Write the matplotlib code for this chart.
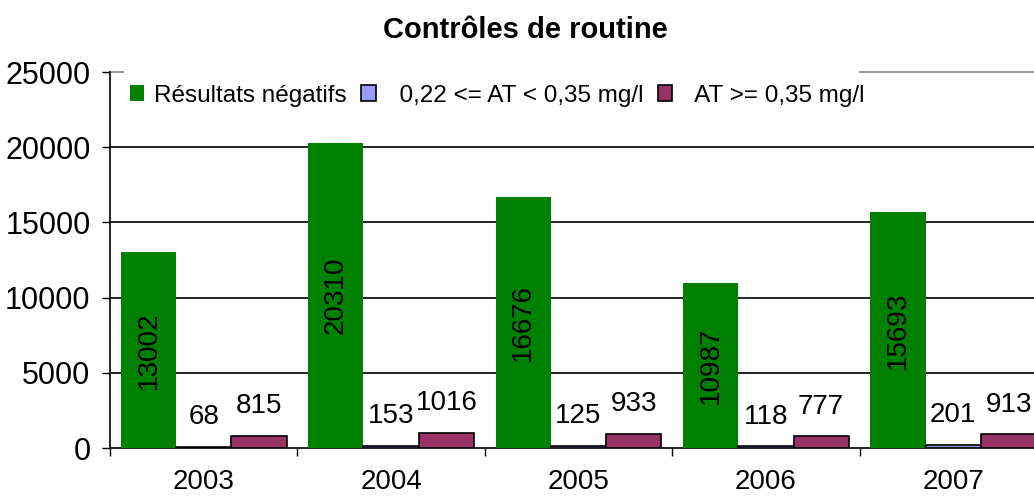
import matplotlib.pyplot as plt
import numpy as np

plt.rcParams['font.family'] = ['Liberation Sans', 'DejaVu Sans']

years = ['2003', '2004', '2005', '2006', '2007']
negatifs = [13002, 20310, 16676, 10987, 15693]
entre = [68, 153, 125, 118, 201]
superieur = [815, 1016, 933, 777, 913]
labels = ['Résultats négatifs', '  0,22 <= AT < 0,35 mg/l', '  AT >= 0,35 mg/l']
colors = ['#008000', '#9999FF', '#993366']


def main():
    fig = plt.figure(figsize=(10.34, 4.97), dpi=100)
    # plot area runs past the right edge, as in the original
    ax = fig.add_axes([110/1034, 1-448/497, 937/1034, 376/497])

    x = np.arange(len(years))
    w = 0.295
    b1 = ax.bar(x - w, negatifs, w, color=colors[0], edgecolor='none', label=labels[0], zorder=3)
    b2 = ax.bar(x, entre, w, color=colors[1], edgecolor='black', linewidth=1.2, label=labels[1], zorder=3)
    b3 = ax.bar(x + w, superieur, w, color=colors[2], edgecolor='black', linewidth=1.2, label=labels[2], zorder=3)

    for rect, v in zip(b1, negatifs):
        ax.text(rect.get_x() + rect.get_width()/2, v/2, str(v), rotation=90,
                ha='center', va='center', fontsize=20, zorder=4)
    for bars, vals in ((b2, entre), (b3, superieur)):
        for rect, v in zip(bars, vals):
            ax.annotate(str(v), (rect.get_x() + rect.get_width()/2, v),
                        xytext=(0, 12), textcoords='offset points',
                        ha='center', va='bottom', fontsize=20, zorder=4)

    ax.set_xlim(-0.5, len(years) - 0.5)
    ax.set_ylim(0, 25000)
    ax.set_yticks(np.arange(0, 25001, 5000))
    ax.tick_params(axis='y', labelsize=22, length=6, width=1, direction='out', pad=8)
    ax.set_xticks(x)
    ax.set_xticklabels(years)
    ax.tick_params(axis='x', labelsize=20, length=0, pad=15)
    ax.set_xticks(np.arange(-0.5, len(years), 1), minor=True)
    ax.tick_params(axis='x', which='minor', length=6, width=1, direction='out')

    for yv in [5000, 10000, 15000, 20000]:
        ax.axhline(yv, color='black', linewidth=1.2, zorder=1)
    # top border, hidden behind the legend except at both ends
    ax.spines['top'].set_visible(False)
    ax.axhline(25000, xmin=0, xmax=13/937, color='#999999', linewidth=1.5, clip_on=False)
    ax.axhline(25000, xmin=750/937, xmax=1, color='#999999', linewidth=1.5, clip_on=False)
    ax.spines['right'].set_visible(False)
    ax.spines['left'].set_linewidth(1.2)
    ax.spines['bottom'].set_linewidth(1.2)

    fig.text(525/1034, 1-30/497, 'Contrôles de routine', ha='center', va='center',
             fontsize=21, fontweight='bold')

    fig.legend(loc='upper left', bbox_to_anchor=(112/1034, 1-67/497), ncol=3,
               fontsize=17.5, frameon=False, handlelength=0.6, handleheight=0.6,
               handletextpad=0.4, columnspacing=0.6, borderpad=0.73,
               borderaxespad=0)

    fig.savefig('out.png', dpi=100)


if __name__ == '__main__':
    main()
